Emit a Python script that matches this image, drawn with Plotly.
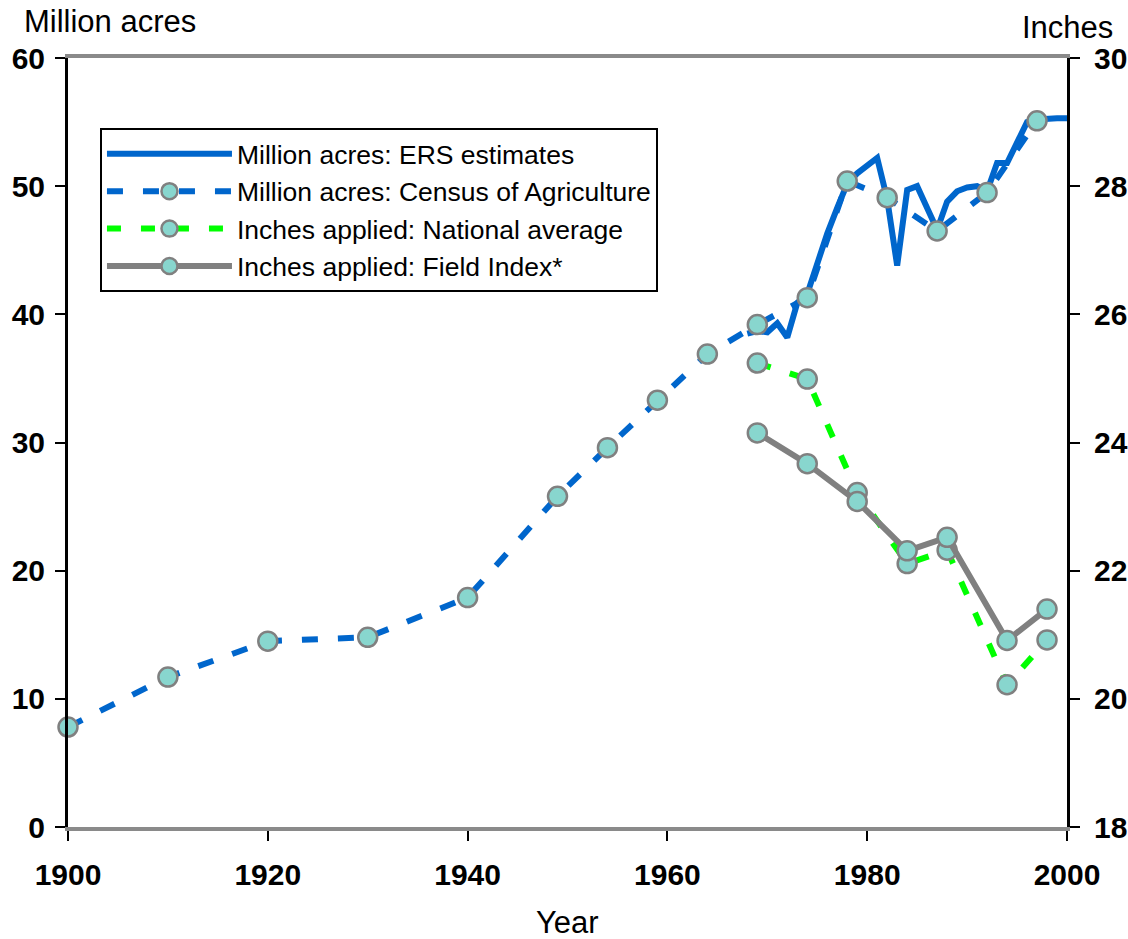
import plotly.graph_objects as go

# ERS estimates (million acres)
ers_years = list(range(1968, 2001))
ers_acres = [38.5, 38.7, 38.6, 39.3, 38.2, 40.9, 41.6, 44.0, 46.3, 48.3,
             50.2, 51.0, 51.6, 52.2, 49.0, 43.8, 49.7, 50.0, 48.3, 46.6,
             48.8, 49.6, 49.9, 50.0, 49.6, 51.8, 51.8, 53.5, 55.0, 55.2,
             55.3, 55.3, 55.3]

# Census of Agriculture (million acres)
census_years = [1900, 1910, 1920, 1930, 1940, 1949, 1954, 1959, 1964, 1969,
                1974, 1978, 1982, 1987, 1992, 1997]
census_acres = [7.8, 11.7, 14.5, 14.8, 17.9, 25.8, 29.6, 33.3, 36.9, 39.2,
                41.3, 50.4, 49.1, 46.5, 49.5, 55.1]

# Inches applied
inch_years = [1969, 1974, 1979, 1984, 1988, 1994, 1998]
national_avg = [25.24, 24.99, 23.22, 22.11, 22.32, 20.22, 20.92]
field_index = [24.15, 23.67, 23.08, 22.31, 22.52, 20.91, 21.40]

x_ticks = [1900, 1920, 1940, 1960, 1980, 2000]

marker_style = dict(size=19, color="#88D6CE", line=dict(color="#808080", width=2.5))

fig = go.Figure()
fig.add_trace(go.Scatter(
    x=ers_years, y=ers_acres, mode="lines", name="Million acres: ERS estimates",
    line=dict(color="#0066CC", width=6), yaxis="y", cliponaxis=False))
fig.add_trace(go.Scatter(
    x=census_years, y=census_acres, mode="lines+markers",
    name="Million acres: Census of Agriculture",
    line=dict(color="#0066CC", width=6, dash="16px,20px"),
    marker=marker_style, yaxis="y", cliponaxis=False))
fig.add_trace(go.Scatter(
    x=inch_years, y=national_avg, mode="lines+markers",
    name="Inches applied: National average",
    line=dict(color="#00FF00", width=6, dash="14px,20px"),
    marker=marker_style, yaxis="y2", cliponaxis=False))
fig.add_trace(go.Scatter(
    x=inch_years, y=field_index, mode="lines+markers",
    name="Inches applied: Field Index*",
    line=dict(color="#808080", width=6),
    marker=marker_style, yaxis="y2", cliponaxis=False))

tick_font = dict(family="Arial, Liberation Sans", size=30, color="black", weight="bold")
title_font = dict(family="Arial, Liberation Sans", size=31, color="black")

fig.update_layout(
    template="none",
    width=1128, height=939,
    margin=dict(l=68, r=61, t=58, b=112, autoexpand=False),
    plot_bgcolor="white", paper_bgcolor="white",
    showlegend=True,
    legend=dict(
        x=0.032, y=0.909, xanchor="left", yanchor="top",
        bgcolor="white", bordercolor="black", borderwidth=2,
        font=dict(family="Arial, Liberation Sans", size=26.5, color="black"),
        itemwidth=125, tracegroupgap=0,
    ),
    xaxis=dict(
        range=[1900, 2000], tickvals=x_ticks, ticktext=[str(v) for v in x_ticks],
        showgrid=False, zeroline=False, automargin=False,
        showline=True, linecolor="#8a8a8a", linewidth=4, mirror=True,
        ticks="outside", ticklen=10, tickwidth=2, tickcolor="black",
        tickfont=tick_font, ticklabelstandoff=8,
    ),
    yaxis=dict(
        range=[0, 60], dtick=10, showgrid=False, zeroline=False, automargin=False,
        showline=True, linecolor="black", linewidth=3,
        ticks="outside", ticklen=10, tickwidth=2, tickcolor="black",
        tickfont=tick_font, ticklabelstandoff=4,
    ),
    yaxis2=dict(
        range=[18, 30], dtick=2, overlaying="y", side="right",
        showgrid=False, zeroline=False, automargin=False,
        showline=True, linecolor="black", linewidth=3,
        ticks="outside", ticklen=10, tickwidth=2, tickcolor="black",
        tickfont=tick_font, ticklabelstandoff=8,
    ),
    annotations=[
        dict(text="Million acres", xref="paper", yref="paper", x=-0.046, y=1.047,
             xanchor="left", yanchor="middle", showarrow=False, font=title_font),
        dict(text="Inches", xref="paper", yref="paper", x=1.048, y=1.040,
             xanchor="right", yanchor="middle", showarrow=False, font=title_font),
        dict(text="Year", xref="paper", yref="paper", x=0.5, y=-0.1245,
             xanchor="center", yanchor="middle", showarrow=False, font=title_font),
    ],
)

fig.write_html("out.html", config={"displayModeBar": False},
               post_script="document.body.style.margin='0';document.body.style.overflow='hidden';")
